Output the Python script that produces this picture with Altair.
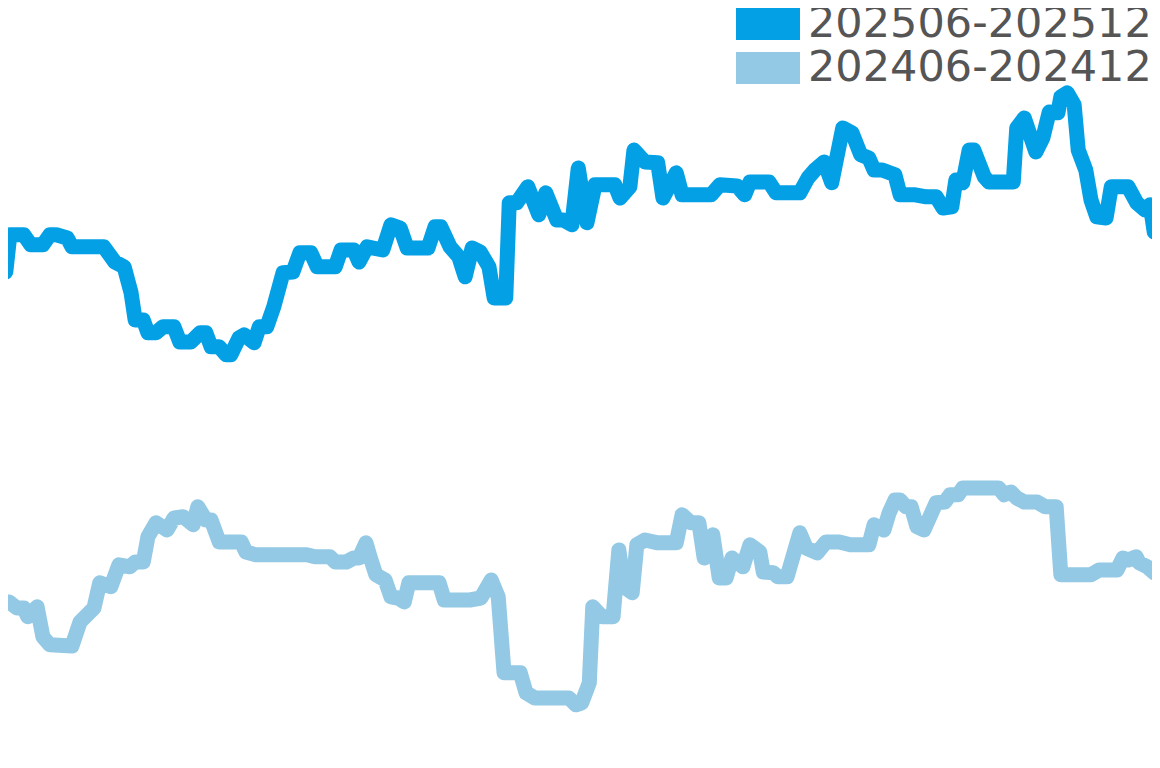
import altair as alt
import pandas as pd

# day offset within each six-month window, and the index value
recent_day = [0.0, 1.0, 1.7, 4.1, 5.3, 7.4, 8.6, 9.7, 11.6, 12.4, 17.9, 19.8, 21.4, 22.6, 23.3, 24.7,
              25.5, 26.9, 28.1, 30.0, 31.0, 32.9, 34.5, 35.5, 36.4, 37.8, 39.0, 39.8, 41.2, 42.1, 43.8,
              44.7, 46.0, 47.2, 48.8, 50.5, 51.7, 53.6, 54.7, 57.8, 58.8, 61.0, 61.9, 63.3, 66.0, 67.4,
              69.0, 70.2, 73.8, 75.0, 76.0, 77.6, 79.1, 80.2, 81.4, 82.8, 84.3, 85.2, 87.2, 87.8, 89.1,
              91.0, 92.9, 94.1, 96.0, 97.1, 98.6, 99.7, 101.2, 102.6, 106.0, 106.9, 108.6, 109.3, 111.2,
              113.4, 114.3, 116.6, 117.6, 122.6, 124.1, 127.1, 128.4, 129.3, 132.6, 133.8, 137.9, 139.3,
              140.5, 142.1, 143.4, 145.3, 146.9, 148.4, 149.8, 150.7, 152.1, 154.3, 155.2, 157.8, 159.7,
              161.4, 162.6, 164.1, 164.8, 166.0, 167.1, 167.9, 169.7, 170.5, 174.7, 175.3, 176.6, 178.6,
              179.8, 180.9, 182.4, 182.9, 184.0, 185.2, 185.9, 187.2, 188.1, 189.1, 190.7, 191.6, 194.5,
              196.0, 197.4, 198.3, 199.0, 200.2]
recent_val = [124.0, 124.0, 133.3, 133.3, 130.8, 130.8, 133.3, 133.3, 132.5, 130.3, 130.3, 126.5, 125.3,
              118.8, 112.0, 112.0, 108.8, 108.8, 110.3, 110.3, 106.5, 106.5, 108.8, 108.8, 105.3, 105.3,
              103.3, 103.3, 107.5, 108.3, 106.3, 110.3, 110.3, 115.3, 123.8, 124.0, 128.8, 128.8, 125.3,
              125.3, 129.5, 129.5, 126.5, 130.3, 129.5, 135.8, 135.0, 130.0, 130.0, 135.3, 135.3, 130.3,
              127.8, 122.8, 130.0, 129.0, 125.3, 117.5, 117.5, 141.3, 141.3, 145.3, 138.3, 143.8, 137.0,
              137.0, 135.8, 150.0, 136.3, 145.8, 145.8, 142.5, 145.3, 154.5, 151.5, 151.3, 142.5, 148.8,
              143.3, 143.3, 145.8, 145.5, 143.3, 146.5, 146.5, 143.8, 143.8, 147.5, 149.5, 151.5, 146.3,
              160.0, 158.8, 153.3, 152.5, 149.5, 149.5, 148.3, 143.3, 143.3, 142.8, 142.8, 140.0, 140.3,
              147.0, 146.3, 154.5, 154.5, 147.8, 146.5, 146.5, 160.0, 162.5, 154.0, 157.5, 164.0, 163.8,
              167.8, 168.8, 165.8, 154.5, 149.5, 142.0, 137.8, 137.5, 145.3, 145.3, 141.3, 139.5, 140.8,
              134.0, 133.3]

prior_day = [0.0, 1.6, 2.9, 4.1, 4.8, 6.4, 7.4, 8.6, 12.4, 13.8, 16.2, 17.2, 19.1, 20.5, 22.4, 23.3,
             24.7, 25.5, 26.9, 28.8, 30.0, 31.6, 33.3, 34.1, 35.5, 36.4, 37.8, 41.6, 42.4, 44.1, 52.9,
             54.3, 56.9, 57.8, 59.7, 61.0, 61.9, 63.1, 63.8, 64.8, 66.4, 67.4, 68.6, 69.7, 70.5, 75.7,
             76.6, 81.0, 82.9, 84.7, 85.9, 86.9, 89.7, 90.7, 92.2, 98.1, 99.3, 100.3, 101.6, 102.2,
             103.8, 105.7, 106.7, 107.6, 109.0, 109.8, 111.2, 113.4, 116.6, 117.6, 119.1, 120.5, 121.4,
             122.9, 124.0, 125.2, 126.2, 128.1, 129.3, 131.0, 131.6, 133.3, 134.1, 135.7, 137.9, 139.0,
             140.9, 142.4, 144.7, 146.6, 149.8, 150.7, 152.4, 153.3, 154.3, 155.2, 156.2, 157.1, 158.1,
             159.3, 161.4, 162.9, 163.8, 165.2, 166.0, 172.2, 173.1, 174.3, 175.3, 176.6, 178.8, 180.2,
             182.1, 182.9, 188.1, 189.5, 192.6, 193.6, 194.5, 195.9, 196.4, 197.8, 199.0, 200.2]
prior_val = [41.5, 41.5, 40.0, 40.0, 37.8, 40.3, 32.8, 30.8, 30.5, 36.5, 40.0, 46.3, 45.3, 50.8, 50.3,
             51.5, 51.5, 57.8, 61.3, 59.5, 62.5, 62.8, 60.8, 65.3, 62.0, 62.0, 56.5, 56.5, 54.0, 53.3,
             53.3, 52.8, 52.8, 51.5, 51.5, 52.5, 52.5, 56.3, 52.8, 48.3, 47.0, 42.8, 42.5, 41.5, 46.3,
             46.3, 42.0, 42.0, 42.5, 47.0, 42.8, 23.8, 23.8, 18.8, 17.5, 17.5, 15.8, 16.3, 21.3, 40.3,
             37.8, 37.8, 54.5, 45.3, 43.8, 55.8, 57.0, 56.3, 56.3, 63.3, 61.3, 61.3, 52.5, 58.3, 47.5,
             47.5, 52.5, 50.3, 55.8, 54.0, 49.0, 48.8, 47.8, 47.8, 58.8, 55.0, 53.8, 56.5, 56.5, 55.8,
             55.8, 60.8, 59.5, 63.8, 67.0, 67.0, 65.3, 65.3, 60.3, 59.5, 66.3, 66.5, 68.3, 68.3, 70.0,
             70.0, 68.3, 69.0, 67.5, 66.5, 66.5, 65.3, 65.3, 48.3, 48.3, 49.5, 49.5, 52.5, 52.0, 52.8,
             51.3, 50.3, 48.8, 48.8]

periods = ["202506-202512", "202406-202412"]
colors = ["#03a0e6", "#93c9e4"]

df = pd.concat([
    pd.DataFrame({"day": recent_day, "value": recent_val, "period": periods[0], "k": range(len(recent_day))}),
    pd.DataFrame({"day": prior_day, "value": prior_val, "period": periods[1], "k": range(len(prior_day))}),
])

lines = alt.Chart(df).mark_line(strokeCap="round", strokeJoin="round").encode(
    x=alt.X("day:Q", axis=None, scale=alt.Scale(domain=[1.379, 198.62], nice=False, zero=False)),
    y=alt.Y("value:Q", axis=None, scale=alt.Scale(domain=[5, 190], nice=False, zero=False)),
    order="k:Q",
    strokeWidth=alt.value(15),
    color=alt.Color("period:N", scale=alt.Scale(domain=periods, range=colors), legend=alt.Legend(
        title=None, orient="none", legendX=720, legendY=-6, padding=0, rowPadding=0, clipHeight=44,
        # wide bar drawn as a thick stroke; a longer path keeps the label close to it
        symbolType="M-1.3333,0H1.3333", symbolSize=2304, symbolStrokeWidth=32, symbolOpacity=1,
        labelFont="DejaVu Sans", labelFontSize=43, labelColor="#555555", labelOffset=0, labelLimit=500,
    )),
)

chart = lines.properties(
    width=1144, height=740, padding=0, autosize=alt.AutoSizeParams(type="none"),
).configure_view(stroke=None)

chart.save("out.html", embed_options={"renderer": "svg", "actions": False})
